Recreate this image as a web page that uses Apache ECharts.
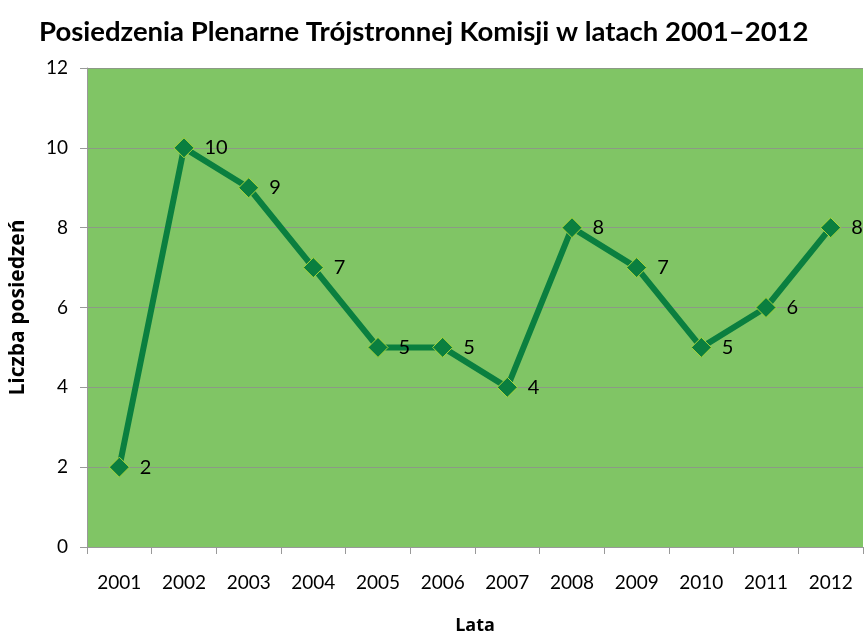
<!DOCTYPE html>
<html>
<head>
<meta charset="utf-8">
<script src="https://cdn.jsdelivr.net/npm/echarts@6/dist/echarts.min.js"></script>
<style>
  html, body { margin: 0; padding: 0; background: #fff; }
  #chart { width: 864px; height: 634px; }
</style>
</head>
<body>
<div id="chart"></div>
<script>
const years = ['2001', '2002', '2003', '2004', '2005', '2006', '2007', '2008', '2009', '2010', '2011', '2012'];
const meetings = [2, 10, 9, 7, 5, 5, 4, 8, 7, 5, 6, 8];

const font = 'Lato, "Open Sans", sans-serif';
const nameFont = '"Open Sans", Lato, sans-serif';

const chart = echarts.init(document.getElementById('chart'));
chart.setOption({
  backgroundColor: '#fff',
  animation: false,
  title: {
    text: 'Posiedzenia Plenarne Trójstronnej Komisji w latach 2001–2012',
    left: 34,
    top: 13,
    textStyle: { fontFamily: font, fontSize: 27.5, fontWeight: 'bold', color: '#000' }
  },
  grid: {
    left: 87,
    right: 1,
    top: 68,
    bottom: 87,
    outerBoundsMode: 'none',
    show: true,
    backgroundColor: '#80C565',
    borderWidth: 0
  },
  xAxis: {
    type: 'category',
    data: years,
    boundaryGap: true,
    name: 'Lata',
    nameLocation: 'middle',
    nameGap: 70,
    nameTextStyle: { fontFamily: nameFont, fontSize: 18, fontWeight: 'bold', color: '#000' },
    axisLine: { show: true, lineStyle: { color: '#999', width: 1 } },
    axisTick: { show: true, length: 7, alignWithLabel: false, lineStyle: { color: '#999' } },
    axisLabel: { fontFamily: font, fontSize: 19, color: '#000', margin: 26 }
  },
  yAxis: {
    type: 'value',
    min: 0,
    max: 12,
    interval: 2,
    name: 'Liczba posiedzeń',
    nameLocation: 'middle',
    nameGap: 58,
    nameTextStyle: { fontFamily: nameFont, fontSize: 21, fontWeight: 'bold', color: '#000' },
    axisLine: { show: true, lineStyle: { color: '#999', width: 1 } },
    axisTick: { show: true, length: 7, lineStyle: { color: '#999' } },
    axisLabel: { fontFamily: font, fontSize: 19, color: '#000', margin: 19 },
    splitLine: { show: true, lineStyle: { color: '#8C9A85', width: 1 } }
  },
  series: [{
    type: 'line',
    data: meetings,
    symbol: 'diamond',
    symbolSize: 20,
    lineStyle: { color: '#0A7F3F', width: 6 },
    itemStyle: { color: '#0A7F3F', borderColor: '#A8D53A', borderWidth: 1 },
    label: {
      show: true,
      position: 'right',
      distance: 10,
      fontFamily: font,
      fontSize: 20,
      color: '#000'
    }
  }]
});
</script>
</body>
</html>
